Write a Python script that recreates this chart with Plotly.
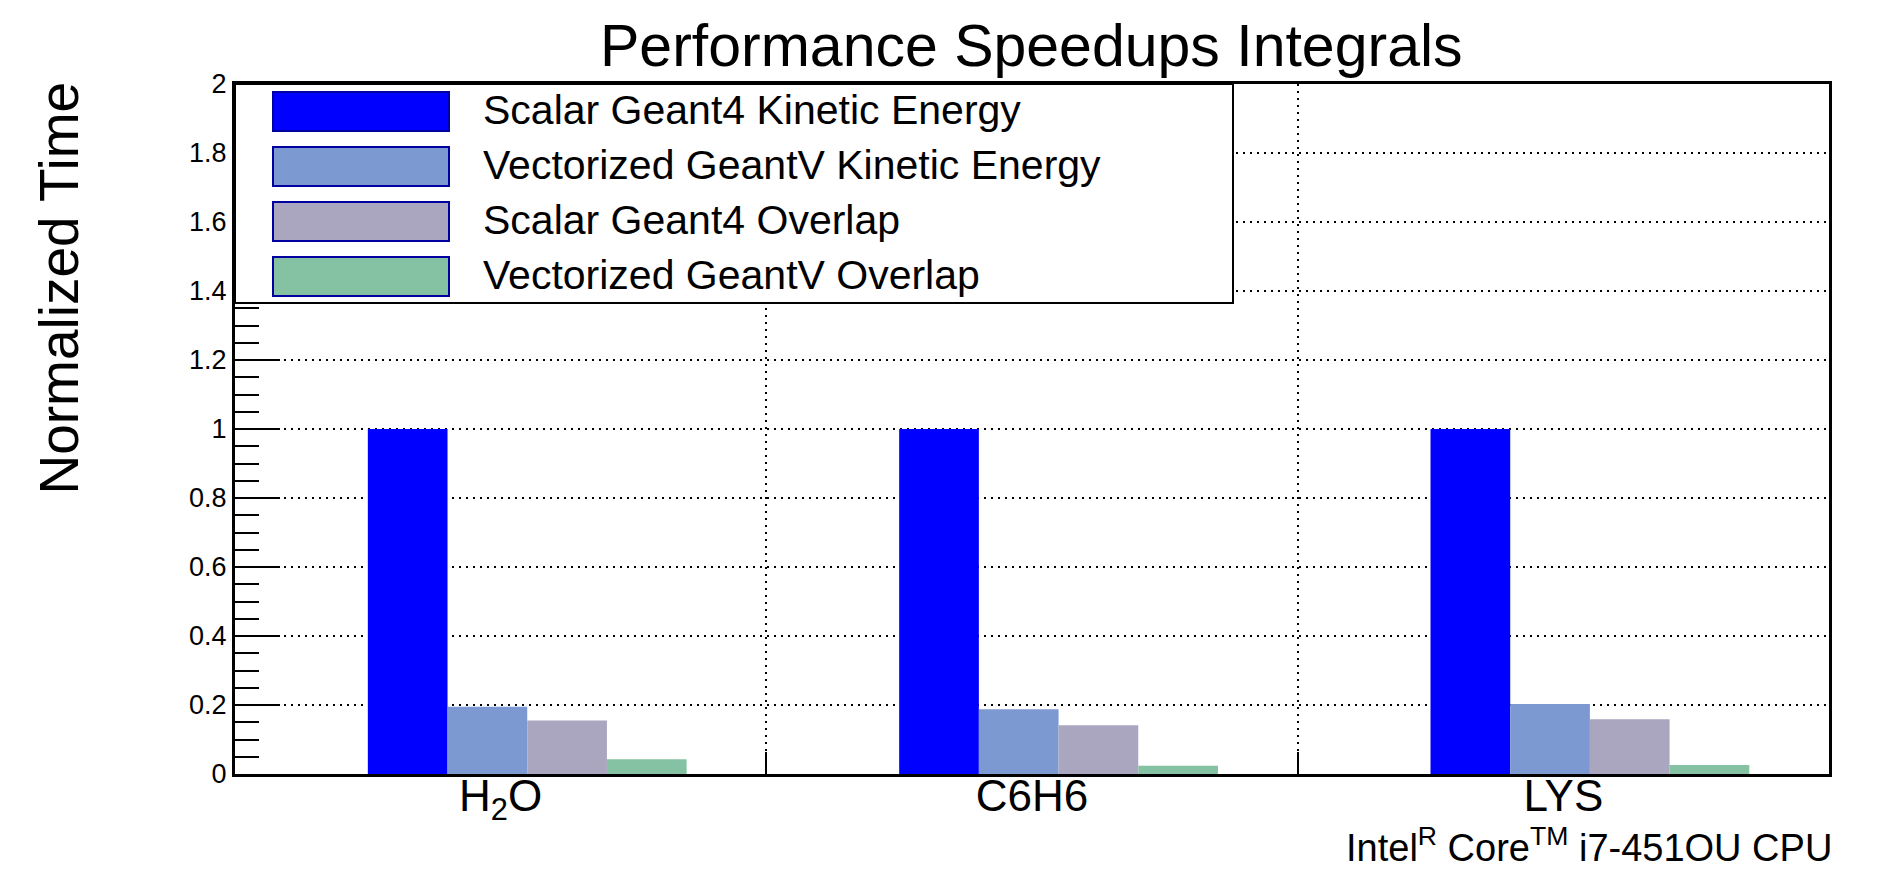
import plotly.graph_objects as go

# ---- data ----
categories = ["H<sub>2</sub>O", "C6H6", "LYS"]
series_names = [
    "Scalar Geant4 Kinetic Energy",
    "Vectorized GeantV Kinetic Energy",
    "Scalar Geant4 Overlap",
    "Vectorized GeantV Overlap",
]
scalar_kinetic = [1.0, 1.0, 1.0]
vector_kinetic = [0.195, 0.188, 0.203]
scalar_overlap = [0.155, 0.141, 0.159]
vector_overlap = [0.043, 0.024, 0.026]
y_ticks = [0, 0.2, 0.4, 0.6, 0.8, 1.0, 1.2, 1.4, 1.6, 1.8, 2.0]
category_edges = [0.5, 1.5]

series_values = [scalar_kinetic, vector_kinetic, scalar_overlap, vector_overlap]
colors = ["#0000ff", "#7d99d1", "#aba6bf", "#85c2a3"]
offsets = [-0.25, -0.10, 0.05, 0.20]
bar_width = 0.15

# page body has an 8px margin: figure is placed at (8, 8) in the window
OFF = 8
W, H = 1863, 861
# desired plot area in window pixels: x 235..1829, y 84..774
PL, PR, PT, PB = 235, 1829, 84, 774
L = PL - OFF
R = W - (PR - OFF)
T = PT - OFF
B = H - (PB - OFF)
PW, PH = PR - PL, PB - PT


def px_x(px):
    return (px - PL) / PW


def px_y(py):
    return (PB - py) / PH


FONT = "Liberation Sans, Arial, Helvetica, sans-serif"

fig = go.Figure()
xpos = list(range(len(categories)))
for name, vals, col, off in zip(series_names, series_values, colors, offsets):
    fig.add_trace(go.Bar(
        x=xpos, y=vals, name=name, width=bar_width, offset=off,
        marker=dict(color=col, line=dict(width=0)),
        showlegend=False,
    ))

# custom ROOT-like legend
shapes = []
annotations = []
shapes.append(dict(type="rect", xref="paper", yref="paper",
                   x0=px_x(235), x1=px_x(1233), y0=px_y(303), y1=px_y(84),
                   fillcolor="white", line=dict(color="black", width=2),
                   layer="above"))
row_tops = [92, 147, 202, 257]
row_h = 39
for name, col, top in zip(series_names, colors, row_tops):
    shapes.append(dict(type="rect", xref="paper", yref="paper",
                       x0=px_x(273), x1=px_x(449),
                       y0=px_y(top + row_h), y1=px_y(top),
                       fillcolor=col, line=dict(color="#0000a0", width=2),
                       layer="above"))
    annotations.append(dict(xref="paper", yref="paper",
                            x=px_x(481), y=px_y(top + row_h / 2 - 2),
                            xanchor="left", yanchor="middle",
                            text=name, showarrow=False,
                            font=dict(family=FONT, size=41, color="black")))

# title
annotations.append(dict(xref="paper", yref="paper", x=px_x(1031), y=px_y(46),
                        xanchor="center", yanchor="middle",
                        text="Performance Speedups Integrals", showarrow=False,
                        font=dict(family=FONT, size=59, color="black")))
# y-axis title
annotations.append(dict(xref="paper", yref="paper", x=px_x(58), y=px_y(80),
                        xanchor="center", yanchor="top", textangle=-90,
                        text="Normalized Time", showarrow=False,
                        font=dict(family=FONT, size=55, color="black")))
# CPU note
annotations.append(dict(xref="paper", yref="paper", x=px_x(1833), y=px_y(870),
                        xanchor="right", yanchor="bottom", borderpad=0,
                        text="Intel<sup>R</sup> Core<sup>TM</sup> i7-451OU CPU",
                        showarrow=False,
                        font=dict(family=FONT, size=38, color="black")))

fig.update_layout(
    width=W, height=H, autosize=False,
    margin=dict(l=L, r=R, t=T, b=B, pad=0, autoexpand=False),
    paper_bgcolor="white", plot_bgcolor="white",
    barmode="overlay",
    shapes=shapes, annotations=annotations,
    showlegend=False,
    font=dict(family=FONT, color="black"),
)

fig.update_xaxes(
    range=[-0.5, 2.5], tickmode="array", tickvals=xpos, ticktext=categories,
    ticks="", showgrid=False, zeroline=False, automargin=False,
    ticklabelstandoff=-19,
    showline=True, linecolor="black", linewidth=3, mirror=True,
    tickfont=dict(family=FONT, size=44, color="black"),
    minor=dict(tickmode="array", tickvals=category_edges, ticks="inside",
               ticklen=22, tickwidth=2,
               tickcolor="black", showgrid=True, gridcolor="black",
               gridwidth=2, griddash="2px,5px"),
)
fig.update_yaxes(
    range=[0, 2], tickmode="array", tickvals=y_ticks,
    ticktext=[("%g" % v) for v in y_ticks],
    ticks="inside", ticklen=45, tickwidth=2, tickcolor="black",
    showgrid=True, gridcolor="black", gridwidth=2, griddash="2px,5px",
    zeroline=False, automargin=False,
    showline=True, linecolor="black", linewidth=3, mirror=True,
    tickfont=dict(family=FONT, size=27, color="black"),
    minor=dict(dtick=0.05, tick0=0, ticks="inside", ticklen=24, tickwidth=2,
               tickcolor="black", showgrid=False),
)

fig.write_html("out.html")
